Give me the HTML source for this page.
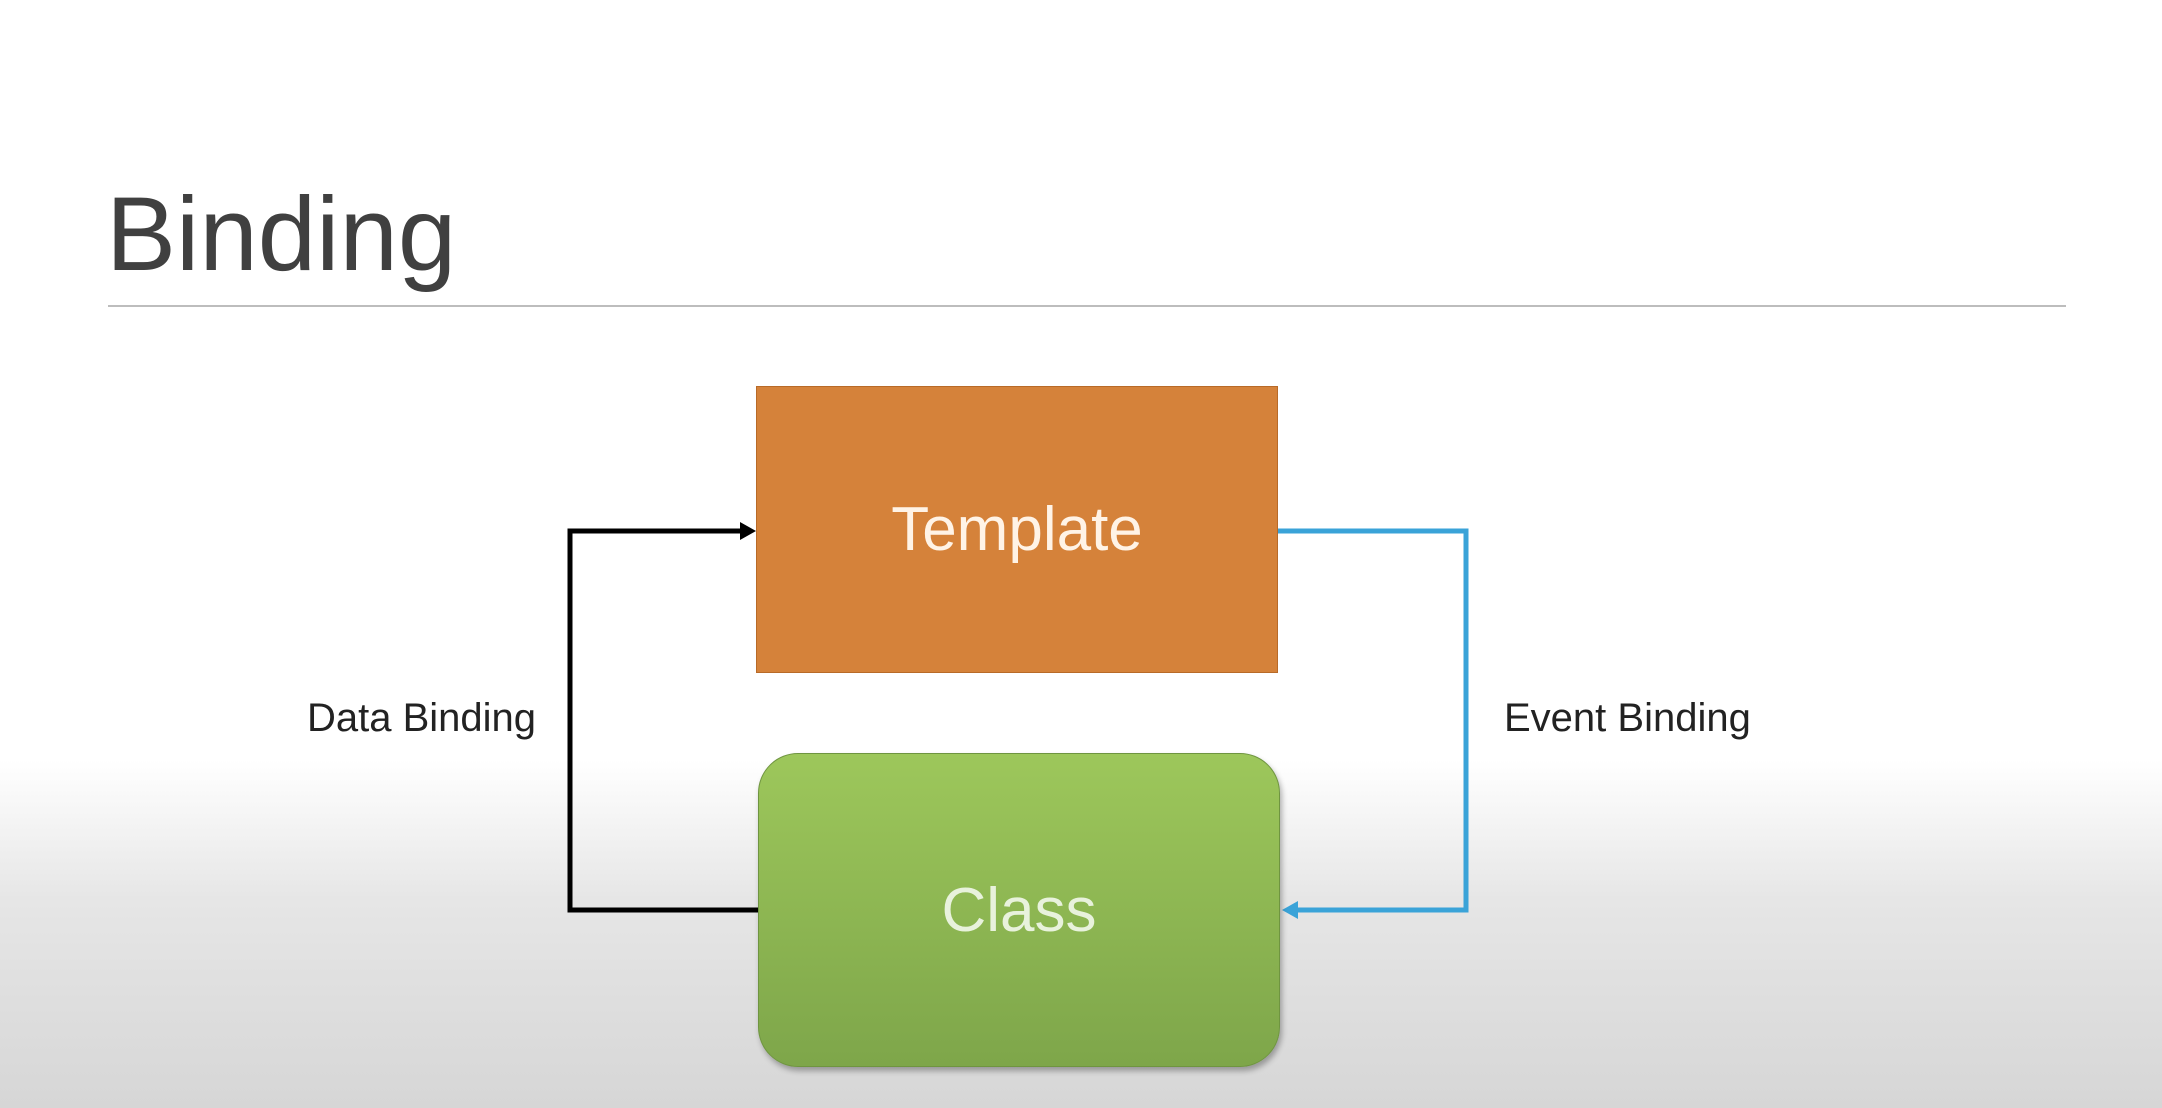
<!DOCTYPE html>
<html><head><meta charset="utf-8"><style>
html,body{margin:0;padding:0;}
body{width:2162px;height:1108px;position:relative;overflow:hidden;font-family:"Liberation Sans",sans-serif;
background:linear-gradient(to bottom,#ffffff 0px,#ffffff 760px,#e6e6e6 900px,#d6d6d6 1108px);}
.title{position:absolute;left:106px;top:182px;font-size:105px;color:#404040;line-height:1;}
.rule{position:absolute;left:108px;top:305px;width:1958px;height:2px;background:#bdbdbd;}
.tpl{position:absolute;left:756px;top:386px;width:520px;height:285px;background:#d5823a;border:1px solid #b86a28;
display:flex;align-items:center;justify-content:center;color:#fff3e6;font-size:62px;}
.cls{position:absolute;left:758px;top:753px;width:520px;height:312px;border-radius:40px;
background:linear-gradient(to bottom,#9dc75b,#7ea64a);border:1px solid #6f9540;box-shadow:2px 4px 6px rgba(0,0,0,0.3);
display:flex;align-items:center;justify-content:center;color:#e8f2dc;font-size:62px;}
.lbl{position:absolute;font-size:40px;color:#222;}
</style></head><body>
<div class="title">Binding</div>
<div class="rule"></div>
<svg width="2162" height="1108" style="position:absolute;left:0;top:0">
<polyline points="758,910 570,910 570,531 745,531" fill="none" stroke="#000" stroke-width="5"/>
<polygon points="756,531 740,522 740,540" fill="#000"/>
<polyline points="1277,531 1466,531 1466,910 1296,910" fill="none" stroke="#3aa3d8" stroke-width="5"/>
<polygon points="1282,910 1298,901 1298,919" fill="#3aa3d8"/>
</svg>
<div class="tpl">Template</div>
<div class="cls">Class</div>
<div class="lbl" style="left:307px;top:696px">Data Binding</div>
<div class="lbl" style="left:1504px;top:696px">Event Binding</div>
</body></html>
